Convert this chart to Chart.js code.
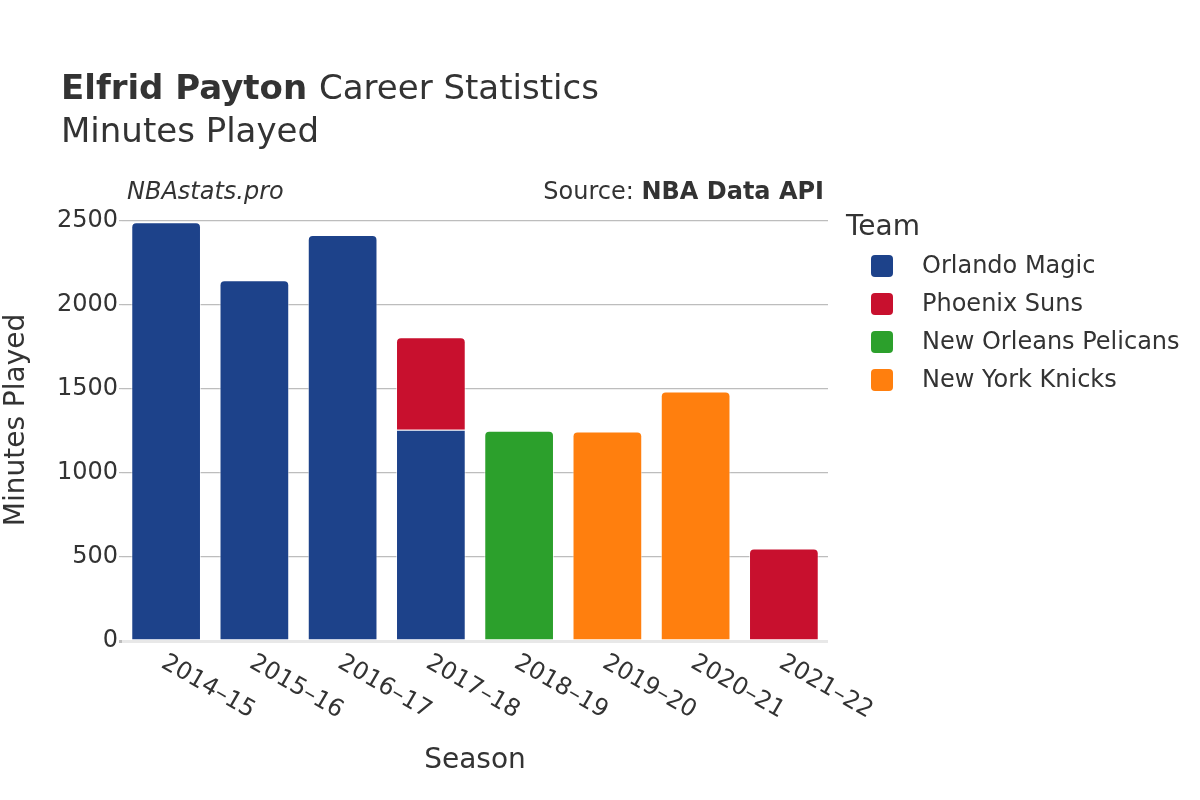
<!DOCTYPE html>
<html>
<head>
<meta charset="utf-8">
<script src="https://cdn.jsdelivr.net/npm/chart.js@4/dist/chart.umd.min.js"></script>
<style>
  html, body { margin: 0; padding: 0; background: #fff; }
  #wrap { width: 1200px; height: 800px; position: relative; }
</style>
</head>
<body>
<div id="wrap"><canvas id="chart" width="1200" height="800"></canvas></div>
<script>
// ------------------------------------------------------------------ data
const seasons = ['2014–15', '2015–16', '2016–17', '2017–18', '2018–19', '2019–20', '2020–21', '2021–22'];
const teams = ['Orlando Magic', 'Phoenix Suns', 'New Orleans Pelicans', 'New York Knicks'];
const teamColors = ['#1d428a', '#c8102e', '#2ca02c', '#ff7f0e'];
const orlandoMinutes = [2492, 2148, 2416, 1258, null, null, null, null];
const phoenixMinutes = [null, null, null, 550, null, null, null, 550];
const pelicansMinutes = [null, null, null, null, 1252, null, null, null];
const knicksMinutes = [null, null, null, null, null, 1247, 1485, null];
const yTicks = [0, 500, 1000, 1500, 2000, 2500];

const FONT = "'DejaVu Sans', sans-serif";
const TEXT = '#333333';

const series = [orlandoMinutes, phoenixMinutes, pelicansMinutes, knicksMinutes];

// top of each stack gets the rounded corners
function isTopOfStack(ctx) {
    const i = ctx.dataIndex;
    for (let d = ctx.datasetIndex + 1; d < series.length; d++) {
        if (series[d][i] != null) return false;
    }
    return true;
}

const datasets = teams.map((name, k) => ({
    label: name,
    data: series[k],
    backgroundColor: teamColors[k],
    borderColor: 'rgba(255,255,255,0.6)',
    borderWidth: 1,
    borderSkipped: 'start',
    borderRadius: ctx => isTopOfStack(ctx) ? { topLeft: 5, topRight: 5 } : 0,
    barPercentage: 0.79,
    categoryPercentage: 1.0
}));

// ----------------------------------------------------------- decorations
const decorations = {
    id: 'decorations',
    afterDraw(chart) {
        const c = chart.ctx;
        const xs = chart.scales.x;
        c.save();
        c.fillStyle = TEXT;

        // titles
        c.textBaseline = 'middle';
        c.textAlign = 'left';
        c.font = `bold 34px ${FONT}`;
        c.fillText('Elfrid Payton', 61, 90);
        const w = c.measureText('Elfrid Payton ').width;
        c.font = `34px ${FONT}`;
        c.fillText('Career Statistics', 61 + w, 90);
        c.fillText('Minutes Played', 61, 133);

        // credits
        c.font = `italic 24px ${FONT}`;
        c.fillText('NBAstats.pro', 127, 193);
        c.textAlign = 'right';
        c.font = `bold 24px ${FONT}`;
        c.fillText('NBA Data API', 824, 193);
        const bw = c.measureText('NBA Data API').width;
        c.font = `24px ${FONT}`;
        c.fillText('Source: ', 824 - bw, 193);

        // axis titles
        c.textAlign = 'center';
        c.font = `28px ${FONT}`;
        c.fillText('Season', 475, 761);
        c.save();
        c.translate(17, 420);
        c.rotate(-Math.PI / 2);
        c.fillText('Minutes Played', 0, 0);
        c.restore();

        // rotated season labels
        c.font = `24px ${FONT}`;
        c.textAlign = 'left';
        seasons.forEach((s, i) => {
            const x = xs.getPixelForValue(i);
            c.save();
            c.translate(x - 3, 661);
            c.rotate(Math.PI / 6);
            c.fillText(s, 0, 0);
            c.restore();
        });

        // legend
        c.font = `28px ${FONT}`;
        c.fillText('Team', 846, 228);
        c.font = `24px ${FONT}`;
        teams.forEach((t, k) => {
            const y = 266 + k * 38;
            c.fillStyle = teamColors[k];
            c.beginPath();
            c.roundRect(871, y - 11, 22, 22, 4);
            c.fill();
            c.fillStyle = TEXT;
            c.fillText(t, 922, y + 1);
        });
        c.restore();
    }
};

new Chart(document.getElementById('chart'), {
    type: 'bar',
    data: { labels: seasons, datasets },
    options: {
        responsive: false,
        animation: false,
        layout: { padding: { left: 42, top: 221, right: 372, bottom: 0 } },
        plugins: { legend: { display: false }, tooltip: { enabled: false } },
        scales: {
            x: {
                stacked: true,
                grid: { display: false },
                border: { display: false },
                ticks: { display: false },
                afterFit: s => { s.height = 159; }
            },
            y: {
                stacked: true,
                min: 0,
                max: 2500,
                afterBuildTicks: s => { s.ticks = yTicks.map(v => ({ value: v })); },
                border: { display: false },
                grid: {
                    color: ctx => ctx.tick && ctx.tick.value === 0 ? '#e8e8e8' : '#bdbdbd',
                    lineWidth: ctx => ctx.tick && ctx.tick.value === 0 ? 3 : 1.2,
                    tickLength: 3,
                    tickColor: '#bdbdbd'
                },
                ticks: {
                    color: TEXT,
                    font: { family: FONT, size: 24 },
                    padding: 1,
                    callback: v => String(v)
                },
                afterFit: s => { s.width = 80; }
            }
        }
    },
    plugins: [decorations]
});
</script>
</body>
</html>
